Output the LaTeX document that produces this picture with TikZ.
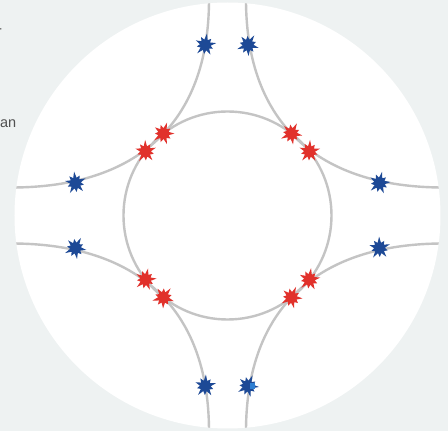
\documentclass[tikz,border=0pt]{standalone}
\usepackage{fontspec}
\setmainfont{Liberation Sans}
\definecolor{bg}{HTML}{EEF2F2}
\definecolor{trackgray}{HTML}{C4C4C4}
\definecolor{bluestar}{HTML}{1D4996}
\definecolor{bluespot}{HTML}{2E7FD3}
\definecolor{redstar}{HTML}{E1312B}
\definecolor{txt}{HTML}{505050}

\tikzset{
  track/.style={draw=trackgray, line width=2.4pt},
  label/.style={inner sep=0pt, text=txt, font=\fontsize{14.5}{14.5}\selectfont},
  burst/.pic={
    \fill[pic actions]
      (0:11) -- (18:5.4) -- (36:8.5) -- (54:5.4) -- (72:11.5) -- (90:5.4)
      -- (108:9) -- (126:5.4) -- (144:10.5) -- (162:5.4) -- (180:8.5)
      -- (198:5.4) -- (216:11.5) -- (234:5.4) -- (252:9) -- (270:5.4)
      -- (288:11) -- (306:5.4) -- (324:8.5) -- (342:5.4) -- cycle;
  },
}

\begin{document}
\begin{tikzpicture}[x=1pt, y=1pt]
  % frame and backdrop
  \clip (-227.5,-215.5) rectangle (220.5,215.5);
  \fill[bg] (-227.5,-215.5) rectangle (220.5,215.5);
  \fill[white] (0,0) circle (213);

  % the ring and the four corner tracks, kept inside the disc
  \begin{scope}
    \clip (0,0) circle (213);
    \draw[track] (0,0) circle (104);
    \foreach \sx/\sy in {-1/1, 1/1, -1/-1, 1/-1} {
      \begin{scope}[xscale=\sx, yscale=\sy]
        \draw[track] (18.5,230) -- (18.5,216)
          .. controls (18.5,91.5) and (91.5,28) .. (216,28) -- (230,28);
      \end{scope}
    }
  \end{scope}

  % blue bursts on the outer tracks
  \foreach \p/\r in {{(-22.2,170.5)}/10, {(20.5,170.5)}/-15,
                     {(-152,32.5)}/25, {(152,32.5)}/5,
                     {(-152,-32.5)}/-10, {(152,-32.5)}/20,
                     {(-22.2,-170.5)}/15, {(20.5,-170.5)}/-5}
    \pic[fill=bluestar, rotate=\r] at \p {burst};
  \fill[bluespot] (23,-174) rectangle (27.5,-168);

  % red bursts where the tracks meet the ring
  \foreach \a/\r in {128/0, 142/20, 52/-10, 38/15,
                     218/5, 232/-20, 322/10, 308/-5}
    \pic[fill=redstar, rotate=\r] at (\a:104) {burst};

  % text at the left edge
  \node[label, anchor=base east] (frag1) at (-225.5,178.5) {r};
  \node[label, anchor=base east] (frag2) at (-211,87.5) {an};
\end{tikzpicture}
\end{document}
